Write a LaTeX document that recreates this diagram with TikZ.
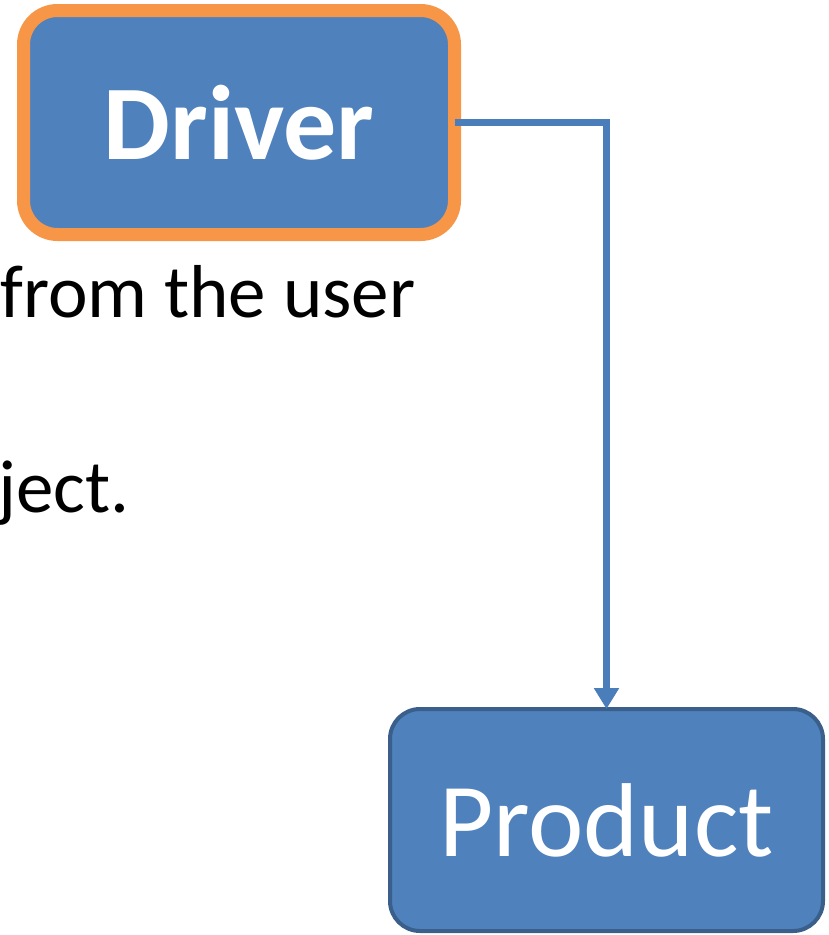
\documentclass[tikz,border=0pt]{standalone}
\usepackage{fontspec}
\setmainfont{Carlito}
\usetikzlibrary{positioning,arrows.meta}

\definecolor{boxblue}{HTML}{4F81BD}
\definecolor{boxedge}{HTML}{3A5F8B}
\definecolor{driveredge}{HTML}{F79646}
\definecolor{linkblue}{HTML}{4A7EBB}

\begin{document}
\begin{tikzpicture}[x=1pt,y=-1pt,
	bstyle/.style={rectangle, rounded corners=34pt, fill=boxblue,
	text=white, inner sep=0pt, outer sep=0pt, font=\fontsize{105}{110}\selectfont},
	tstyle/.style={anchor=base west, inner sep=0pt, font=\fontsize{75}{85}\selectfont}
	]
	\useasboundingbox (0,0) rectangle (829,935);
	
	\node[tstyle] (user) at (0,317) {from the user};
	\node[tstyle] (ject) at (-2,512) {ject.};
	
	\node[bstyle, draw=driveredge, line width=13pt, minimum width=431pt,
	minimum height=224pt, font=\fontsize{106}{110}\selectfont\bfseries] (driver) at (239,122.5) {Driver};
	\node[bstyle, draw=boxedge, line width=4pt, minimum width=433pt,
	minimum height=222pt, rounded corners=30pt] (product) at (606.5,820) {Product};
	
	\draw[-{Triangle[width=24pt,length=21pt]}, linkblue, line width=7pt]
	(driver.east) -| (product.north);
\end{tikzpicture}
\end{document}
